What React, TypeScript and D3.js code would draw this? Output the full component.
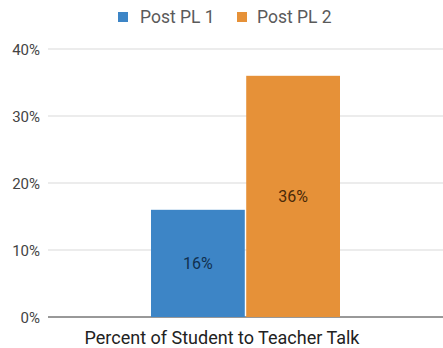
import React from "react";
import * as d3 from "d3";

const categories = ["Percent of Student to Teacher Talk"];
const seriesNames = ["Post PL 1", "Post PL 2"];
const seriesValues = [[0.16], [0.36]];
const yTicks = [0, 0.1, 0.2, 0.3, 0.4];
const colors = ["#3d85c6", "#e69138"];
const labelColors = ["#10304f", "#4a2a08"];

export default function App() {
  const W = 443, H = 348;
  const left = 48, right = 443, top = 49, bottom = 317;
  const y = d3.scaleLinear().domain([0, 0.4]).range([bottom, top]);
  const x0 = d3.scaleBand().domain(categories).range([left, right]).paddingInner(0).paddingOuter(0.545);
  const x1 = d3.scaleBand().domain(seriesNames).range([0, x0.bandwidth()]).paddingInner(0.015);
  const fmt = d3.format(".0%");
  const font = "Roboto, 'Noto Sans', Arial, sans-serif";

  const legendItems = [
    { name: seriesNames[0], sx: 118, tx: 140 },
    { name: seriesNames[1], sx: 237, tx: 257 },
  ];

  return (
    <svg width={W} height={H} style={{ position: "absolute", left: 0, top: 0, background: "#fff" }} fontFamily={font}>
      {legendItems.map((l, i) => (
        <g key={l.name}>
          <rect x={l.sx} y={12} width={10} height={10} fill={colors[i]} />
          <text x={l.tx} y={23} fontSize={17.5} fill="#5a5a5a">{l.name}</text>
        </g>
      ))}
      {yTicks.map((t) => (
        <g key={t}>
          <line x1={left} x2={right} y1={y(t)} y2={y(t)} stroke={t === 0 ? "#333" : "#d9d9d9"} strokeWidth={1} />
          <text x={40} y={y(t) + 5.5} textAnchor="end" fontSize={15} fill="#444">{fmt(t)}</text>
        </g>
      ))}
      {categories.map((c, ci) => (
        <g key={c} transform={`translate(${x0(c)},0)`}>
          {seriesNames.map((s, si) => {
            const v = seriesValues[si][ci];
            const bx = x1(s)!;
            return (
              <g key={s}>
                <rect x={bx} y={y(v)} width={x1.bandwidth()} height={bottom - y(v)} fill={colors[si]} />
                <text x={bx + x1.bandwidth() / 2} y={(y(v) + bottom) / 2 + 5.5} textAnchor="middle" fontSize={16} fill={labelColors[si]}>{fmt(v)}</text>
              </g>
            );
          })}
        </g>
      ))}
      {categories.map((c) => (
        <text key={c} x={222} y={344} textAnchor="middle" fontSize={18} fill="#222">{c}</text>
      ))}
    </svg>
  );
}
